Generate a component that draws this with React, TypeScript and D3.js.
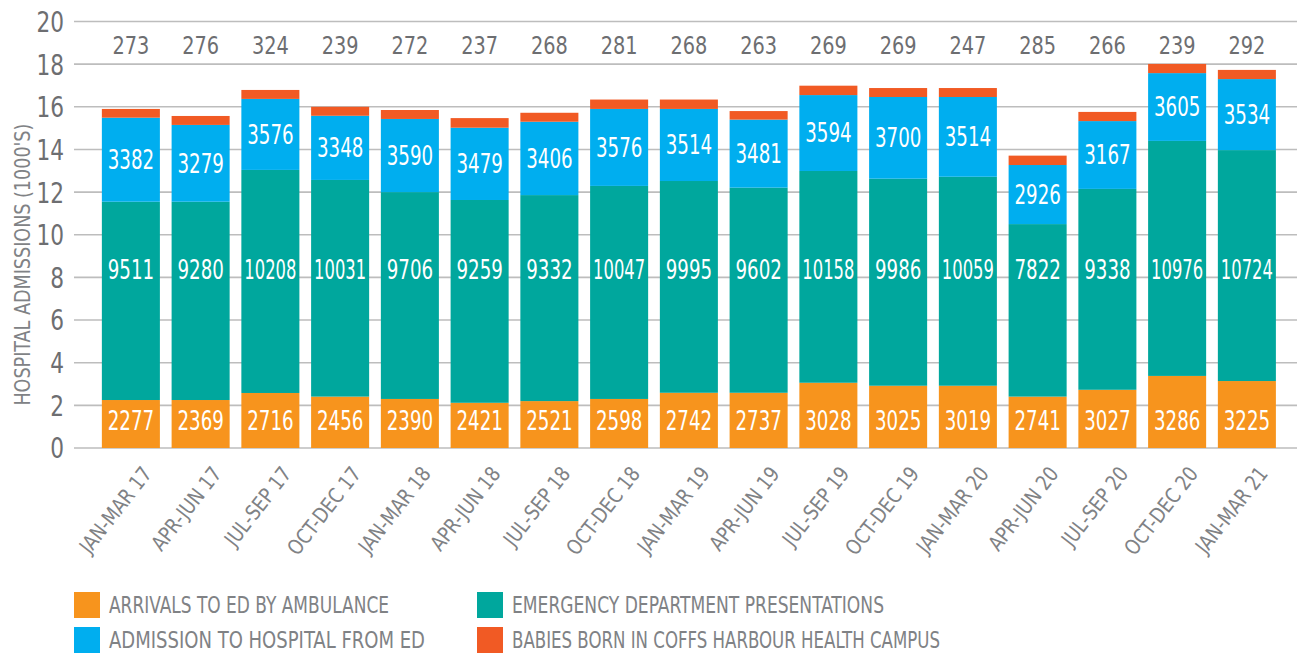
import React, { useEffect, useRef } from 'react';
import * as d3 from 'd3';

const categories = [
  'JAN-MAR 17', 'APR-JUN 17', 'JUL-SEP 17', 'OCT-DEC 17', 'JAN-MAR 18', 'APR-JUN 18',
  'JUL-SEP 18', 'OCT-DEC 18', 'JAN-MAR 19', 'APR-JUN 19', 'JUL-SEP 19', 'OCT-DEC 19',
  'JAN-MAR 20', 'APR-JUN 20', 'JUL-SEP 20', 'OCT-DEC 20', 'JAN-MAR 21'
];

// printed figures
const ambulanceLabels = [2277, 2369, 2716, 2456, 2390, 2421, 2521, 2598, 2742, 2737, 3028, 3025, 3019, 2741, 3027, 3286, 3225];
const edLabels = [9511, 9280, 10208, 10031, 9706, 9259, 9332, 10047, 9995, 9602, 10158, 9986, 10059, 7822, 9338, 10976, 10724];
const admitLabels = [3382, 3279, 3576, 3348, 3590, 3479, 3406, 3576, 3514, 3481, 3594, 3700, 3514, 2926, 3167, 3605, 3534];
const babiesLabels = [273, 276, 324, 239, 272, 237, 268, 281, 268, 263, 269, 269, 247, 285, 266, 239, 292];

// segment heights as drawn (1000's)
const ambulanceBar = [2.25, 2.25, 2.58, 2.41, 2.30, 2.12, 2.20, 2.30, 2.59, 2.59, 3.06, 2.92, 2.92, 2.41, 2.73, 3.38, 3.14];
const edBar = [9.30, 9.30, 10.46, 10.16, 9.70, 9.51, 9.66, 9.99, 9.93, 9.62, 9.93, 9.71, 9.80, 8.09, 9.42, 11.02, 10.83];
const admitBar = [3.94, 3.60, 3.33, 3.01, 3.43, 3.39, 3.44, 3.61, 3.38, 3.19, 3.56, 3.83, 3.74, 2.77, 3.18, 3.18, 3.33];
const babiesBar = [0.41, 0.42, 0.42, 0.42, 0.42, 0.45, 0.42, 0.44, 0.44, 0.40, 0.44, 0.42, 0.42, 0.44, 0.43, 0.43, 0.43];

const yTicks = [0, 2, 4, 6, 8, 10, 12, 14, 16, 18, 20];

const series = [
  { key: 'ambulance', name: 'ARRIVALS TO ED BY AMBULANCE', color: '#f7941d' },
  { key: 'ed', name: 'EMERGENCY DEPARTMENT PRESENTATIONS', color: '#00a79d' },
  { key: 'admit', name: 'ADMISSION TO HOSPITAL FROM ED', color: '#00aeef' },
  { key: 'babies', name: 'BABIES BORN IN COFFS HARBOUR HEALTH CAMPUS', color: '#f15a24' }
];

const FONT = "'DejaVu Sans Condensed', 'DejaVu Sans', sans-serif";

export default function App() {
  const ref = useRef<SVGSVGElement>(null);

  useEffect(() => {
    const svg = d3.select(ref.current);
    svg.selectAll('*').remove();

    const rows = categories.map((c, i) => ({
      cat: c,
      ambulance: ambulanceBar[i],
      ed: edBar[i],
      admit: admitBar[i],
      babies: babiesBar[i]
    }));

    const x = d3.scaleBand()
      .domain(categories)
      .range([96, 96 + 17 * 69.75])
      .paddingInner(0.168)
      .paddingOuter(0.084);
    const y = d3.scaleLinear().domain([0, 20]).range([448, 21.5]);

    // grid + y tick labels
    const grid = svg.append('g');
    grid.selectAll('line')
      .data(yTicks)
      .enter()
      .append('line')
      .attr('x1', 74)
      .attr('x2', 1297)
      .attr('y1', d => y(d))
      .attr('y2', d => y(d))
      .attr('stroke', '#bdbdbd')
      .attr('stroke-width', 1.6);
    grid.selectAll('text')
      .data(yTicks)
      .enter()
      .append('text')
      .attr('transform', d => 'translate(64,' + y(d) + ') scale(0.83,1)')
      .attr('dy', '0.36em')
      .attr('text-anchor', 'end')
      .attr('font-size', 29)
      .attr('fill', '#6d6e71')
      .text(d => d);

    svg.append('text')
      .attr('transform', 'translate(30,' + y(8.6) + ') rotate(-90)')
      .attr('text-anchor', 'middle')
      .attr('font-size', 22)
      .attr('fill', '#808285')
      .attr('textLength', 282)
      .attr('lengthAdjust', 'spacingAndGlyphs')
      .text("HOSPITAL ADMISSIONS (1000'S)");

    const stack = d3.stack().keys(series.map(s => s.key));
    const stacked = stack(rows as any);

    svg.append('g')
      .selectAll('g')
      .data(stacked)
      .enter()
      .append('g')
      .attr('fill', (d, i) => series[i].color)
      .selectAll('rect')
      .data(d => d)
      .enter()
      .append('rect')
      .attr('x', (d: any) => x(d.data.cat) as number)
      .attr('width', x.bandwidth())
      .attr('y', d => y(d[1]))
      .attr('height', d => y(d[0]) - y(d[1]));

    const cx = (c: string) => (x(c) as number) + x.bandwidth() / 2;
    const labels = svg.append('g')
      .attr('text-anchor', 'middle')
      .attr('font-size', 26);

    // narrower squeeze for 5-digit figures so they fit inside the bar
    const sq = (v: number) => (String(v).length > 4 ? 0.7 : 0.78);
    const place = (px: number, py: number, s: number) =>
      'translate(' + px + ',' + py + ') scale(' + s + ',1)';

    labels.selectAll('.amb')
      .data(categories)
      .enter()
      .append('text')
      .attr('transform', (d, i) => place(cx(d), y(1.3), sq(ambulanceLabels[i])))
      .attr('dy', '0.36em')
      .attr('fill', '#fff')
      .text((d, i) => ambulanceLabels[i]);

    labels.selectAll('.ed')
      .data(categories)
      .enter()
      .append('text')
      .attr('transform', (d, i) => place(cx(d), y(8.35), sq(edLabels[i])))
      .attr('dy', '0.36em')
      .attr('fill', '#fff')
      .text((d, i) => edLabels[i]);

    labels.selectAll('.adm')
      .data(categories)
      .enter()
      .append('text')
      .attr('transform', (d, i) => place(cx(d), y(stacked[2][i][0] + admitBar[i] / 2), sq(admitLabels[i])))
      .attr('dy', '0.36em')
      .attr('fill', '#fff')
      .text((d, i) => admitLabels[i]);

    labels.selectAll('.bab')
      .data(categories)
      .enter()
      .append('text')
      .attr('transform', d => place(cx(d), y(18.9), 0.86))
      .attr('dy', '0.36em')
      .attr('font-size', 25)
      .attr('fill', '#6d6e71')
      .text((d, i) => babiesLabels[i]);

    // x labels
    svg.append('g')
      .selectAll('text')
      .data(categories)
      .enter()
      .append('text')
      .attr('transform', d => 'translate(' + (cx(d) + 22) + ',474) rotate(-52) scale(0.92,1)')
      .attr('text-anchor', 'end')
      .attr('font-size', 21)
      .attr('fill', '#808285')
      .text(d => d);

    // legend
    const legendPos = [[74, 592], [477, 592], [74, 627], [477, 627]];
    const legendOrder = [0, 1, 2, 3];
    const lengths = [280, 372, 316, 428];
    const lg = svg.append('g');
    legendOrder.forEach((si, k) => {
      const [lx, ly] = legendPos[k];
      lg.append('rect')
        .attr('x', lx)
        .attr('y', ly)
        .attr('width', 26)
        .attr('height', 26)
        .attr('fill', series[si].color);
      lg.append('text')
        .attr('x', lx + 35)
        .attr('y', ly + 13)
        .attr('dy', '0.36em')
        .attr('font-size', 23)
        .attr('fill', '#808285')
        .attr('textLength', lengths[k])
        .attr('lengthAdjust', 'spacingAndGlyphs')
        .text(series[si].name);
    });
  }, []);

  return (
    <svg
      ref={ref}
      width={1305}
      height={655}
      style={{ position: 'absolute', left: 0, top: 0, fontFamily: FONT, background: '#fff' }}
    />
  );
}
